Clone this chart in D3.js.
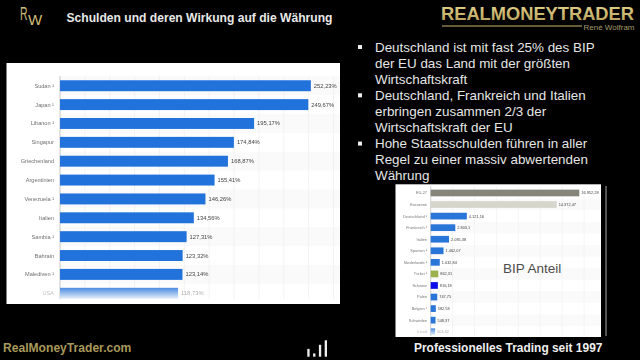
<!DOCTYPE html>
<html><head><meta charset="utf-8">
<script src="https://cdnjs.cloudflare.com/ajax/libs/d3/7.8.5/d3.min.js"></script>
<style>html,body{margin:0;padding:0;background:#000;overflow:hidden}svg{display:block}text{font-family:"Liberation Sans",Arial,sans-serif}</style>
</head><body><svg id="c" width="640" height="360"></svg>
<script>
const debtCountries=["Sudan ¹","Japan ¹","Libanon ¹","Singapur","Griechenland","Argentinien","Venezuela ¹","Italien","Sambia ¹","Bahrain","Malediven ¹","USA"];
const debtValues=[252.23,249.67,195.17,174.84,168.87,155.41,146.26,134.56,127.31,123.32,123.14,118.73];
const debtLabels=["252,23%","249,67%","195,17%","174,84%","168,87%","155,41%","146,26%","134,56%","127,31%","123,32%","123,14%","118,73%"];
const gdpCountries=["EU-27","Eurozone","Deutschland ¹","Frankreich ¹","Italien","Spanien ¹","Niederlande ¹","Türkei ¹","Schweiz","Polen","Belgien ¹","Schweden","Irland"];
const gdpValues=[16952.28,14372.47,4121.16,2803.1,2085.38,1462.07,1032.84,862.31,816.18,747.75,582.58,548.37,504.62];
const gdpLabels=["16.952,28","14.372,47","4.121,16","2.803,1","2.085,38","1.462,07","1.032,84","862,31","816,18","747,75","582,58","548,37","504,62"];
const gdpColors=["#85857a","#d6d6cc","#2a74d8","#2a74d8","#2a74d8","#2a74d8","#2a74d8","#9bb050","#0808e8","#2a74d8","#2a74d8","#2a74d8","#2a74d8"];
const bullets=[["Deutschland ist mit fast 25% des BIP","der EU das Land mit der größten","Wirtschaftskraft"],["Deutschland, Frankreich und Italien","erbringen zusammen 2/3 der","Wirtschaftskraft der EU"],["Hohe Staatsschulden führen in aller","Regel zu einer massiv abwertenden","Währung"]];
const signalBars=["a","b","c","d"];
const signalValues=[1.9,0.8,2.9,4];

const svg=d3.select("#c");
const defs=svg.append("defs");
const fade=defs.append("linearGradient").attr("id","fade").attr("x1",0).attr("x2",0).attr("y1",0).attr("y2",1);
fade.append("stop").attr("offset","0").attr("stop-color","#4a8ae0");
fade.append("stop").attr("offset","1").attr("stop-color","#e6effa");
const gold=defs.append("linearGradient").attr("id","gold").attr("x1",0).attr("x2",0).attr("y1",0).attr("y2",1);
gold.append("stop").attr("offset","0").attr("stop-color","#e6d48e");
gold.append("stop").attr("offset","1").attr("stop-color","#b39c55");
const blur=defs.append("filter").attr("id","soft").attr("x","-5%").attr("y","-5%").attr("width","110%").attr("height","110%");
blur.append("feGaussianBlur").attr("stdDeviation",0.35);

// Left chart
const L=svg.append("g").attr("filter","url(#soft)");
L.append("rect").attr("x",6.5).attr("y",63).attr("width",333.5).attr("height",241).attr("fill","#fff");
const lx=d3.scaleLinear().domain([0,275]).range([60,333.5]);
const ly=d3.scaleBand().domain(debtCountries).range([76.3,302.7]).paddingInner(0.42).paddingOuter(0.21);
L.selectAll("rect.z").data(debtCountries.filter((d,i)=>i%2==0)).join("rect").attr("x",60).attr("y",d=>ly(d)-ly.step()*.21).attr("width",280).attr("height",ly.step()).attr("fill","#fafafa");
L.selectAll("line.g").data(d3.range(25,276,25)).join("line").attr("x1",d=>lx(d)).attr("x2",d=>lx(d)).attr("y1",76).attr("y2",299).attr("stroke","#eeeeee").attr("stroke-width",.7);
L.append("line").attr("x1",60).attr("x2",60).attr("y1",76).attr("y2",299).attr("stroke","#b8b8b8").attr("stroke-width",.8);
L.selectAll("rect.b").data(debtValues).join("rect").attr("x",lx(0)).attr("y",(d,i)=>ly(debtCountries[i])).attr("width",d=>lx(d)-lx(0)).attr("height",ly.bandwidth()).attr("fill",(d,i)=>i==11?"url(#fade)":"#2272dc");
L.selectAll("text.c").data(debtCountries).join("text").attr("x",54).attr("y",d=>ly(d)+ly.bandwidth()/2+2).attr("text-anchor","end").attr("font-size",5.6).attr("fill",(d,i)=>i==11?"#c0c0c0":"#6f6f6f").text(d=>d);
L.selectAll("text.v").data(debtLabels).join("text").attr("x",(d,i)=>lx(debtValues[i])+3).attr("y",(d,i)=>ly(debtCountries[i])+ly.bandwidth()/2+2).attr("font-size",5.8).attr("fill",(d,i)=>i==11?"#b0b0b0":"#444").text(d=>d);

// Right chart
const R=svg.append("g").attr("filter","url(#soft)");
R.append("rect").attr("x",395.5).attr("y",184.3).attr("width",205.5).attr("height",152.7).attr("fill","#fff");
const rx=d3.scaleLinear().domain([0,16952.28]).range([430.7,579.3]);
const ry=d3.scaleBand().domain(gdpCountries).range([187.2,337.5]).paddingInner(0.42).paddingOuter(0.21);
R.selectAll("rect.z").data(gdpCountries.filter((d,i)=>i%2==1)).join("rect").attr("x",430.7).attr("y",d=>ry(d)-ry.step()*.21).attr("width",170).attr("height",ry.step()).attr("fill","#fafafa");
R.selectAll("line.g").data(d3.range(2500,20001,2500)).join("line").attr("x1",d=>rx(d)).attr("x2",d=>rx(d)).attr("y1",186).attr("y2",336).attr("stroke","#f0f0f0").attr("stroke-width",.7);
R.append("line").attr("x1",430.7).attr("x2",430.7).attr("y1",186).attr("y2",336).attr("stroke","#c4c4c4").attr("stroke-width",.8);
R.selectAll("rect.b").data(gdpValues).join("rect").attr("x",rx(0)).attr("y",(d,i)=>ry(gdpCountries[i])).attr("width",d=>rx(d)-rx(0)).attr("height",ry.bandwidth()).attr("fill",(d,i)=>i==12?"url(#fade)":gdpColors[i]);
R.selectAll("text.c").data(gdpCountries).join("text").attr("x",427).attr("y",d=>ry(d)+ry.bandwidth()/2+1.4).attr("text-anchor","end").attr("font-size",3.9).attr("fill",(d,i)=>i==12?"#bbb":"#777").text(d=>d);
R.selectAll("text.v").data(gdpLabels).join("text").attr("x",(d,i)=>rx(gdpValues[i])+2).attr("y",(d,i)=>ry(gdpCountries[i])+ry.bandwidth()/2+1.4).attr("font-size",3.9).attr("fill",(d,i)=>i==12?"#aaa":"#444").text(d=>d);
svg.append("text").attr("x",503).attr("y",272.7).attr("font-size",13.5).attr("fill","#4c4c4c").text("BIP Anteil");

// Header and text
svg.append("text").attr("x",66.5).attr("y",22).attr("font-size",12.1).attr("font-weight","bold").attr("fill","#e8e8e8").text("Schulden und deren Wirkung auf die Währung");
svg.append("text").attr("x",441).attr("y",20).attr("font-size",18.3).attr("font-weight","bold").attr("fill","url(#gold)").text("REALMONEYTRADER");
svg.append("line").attr("x1",442).attr("x2",582).attr("y1",26).attr("y2",26).attr("stroke","#cdb96f").attr("stroke-width",1);
svg.append("text").attr("x",634.5).attr("y",29.5).attr("text-anchor","end").attr("font-size",8).attr("fill","#a59a6a").text("René Wolfram");
// RW logo
svg.append("text").attr("transform","translate(20,20) scale(.58,1)").attr("font-size",18).attr("fill","#cdbb78").text("R");
svg.append("text").attr("x",28).attr("y",25).attr("font-size",15).attr("fill","#cdbb78").text("W");

let lineNo=0;
bullets.forEach(b=>{
  svg.append("rect").attr("x",358).attr("y",45+lineNo*16.1).attr("width",4).attr("height",4).attr("fill","#eee");
  b.forEach(t=>{
    svg.append("text").attr("x",375).attr("y",51.5+lineNo*16.1).attr("font-size",13.4).attr("fill","#e6e6e6").text(t);
    lineNo++;
  });
});

svg.append("text").attr("x",3).attr("y",352.3).attr("font-size",12.1).attr("font-weight","bold").attr("fill","#a8985a").text("RealMoneyTrader.com");
svg.append("text").attr("x",414).attr("y",352.3).attr("font-size",11.95).attr("font-weight","bold").attr("fill","#efefef").text("Professionelles Trading seit 1997");
const sx=d3.scaleBand().domain(signalBars).range([307.3,327]).paddingInner(.6);
const sy=d3.scaleLinear().domain([0,4]).range([356.7,340.3]);
svg.selectAll("rect.s").data(signalValues).join("rect").attr("x",(d,i)=>sx(signalBars[i])).attr("y",d=>sy(d)).attr("width",sx.bandwidth()).attr("height",d=>sy(0)-sy(d)).attr("fill","#eee");
</script></body></html>
